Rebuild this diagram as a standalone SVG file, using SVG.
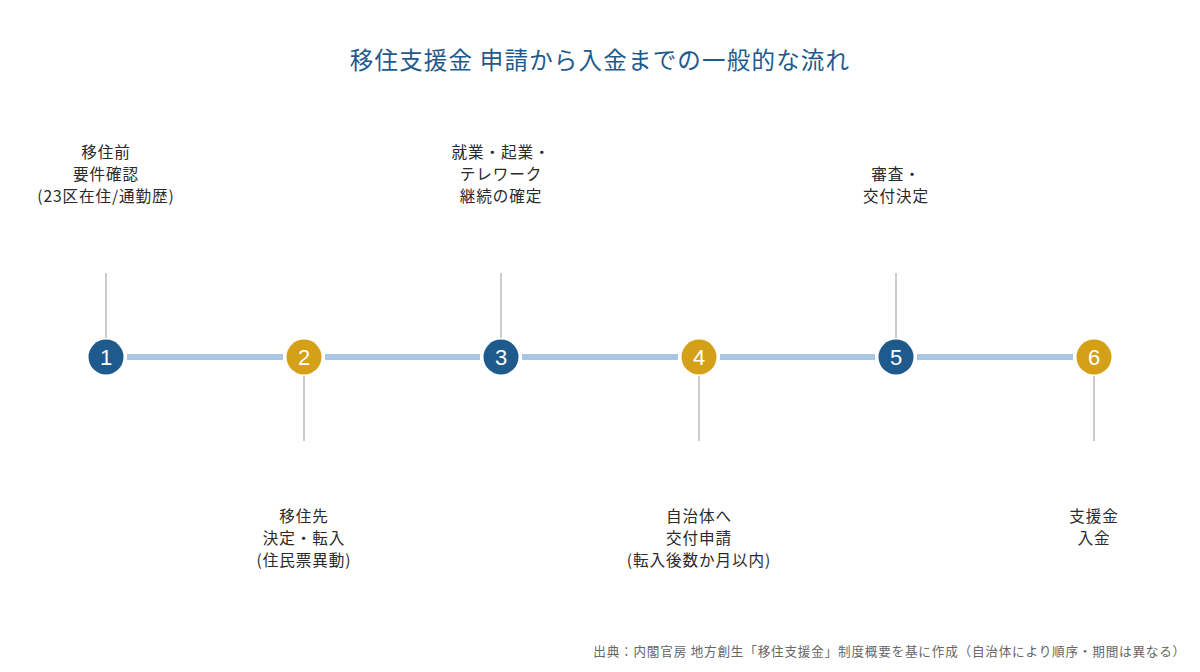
<svg xmlns="http://www.w3.org/2000/svg" width="1200" height="672" viewBox="0 0 1200 672">
<style>
text{font-family:"Noto Sans CJK JP","Noto Sans CJK SC",sans-serif}
.t{font-size:23.5px;letter-spacing:1.2px;fill:#1f5a8c;text-anchor:middle}
.l{font-size:15.6px;letter-spacing:0.9px;fill:#2a2a2a;text-anchor:middle}
.n{font-size:22px;fill:#fff;text-anchor:middle;font-family:"Liberation Sans",sans-serif}
.f{font-size:12.6px;letter-spacing:0.8px;fill:#666;text-anchor:end}
.seg{stroke:#a9c7e3;stroke-width:6}
.tick{stroke:#bbb;stroke-width:1.5}
.b{fill:#1f5a8c}.g{fill:#d4a017}
</style>
<rect width="1200" height="672" fill="#fff"/>
<text class="t" x="600" y="69">移住支援金 申請から入金までの一般的な流れ</text>
<g id="connectors">
<line class="seg" x1="127" y1="357" x2="283" y2="357"/>
<line class="seg" x1="325" y1="357" x2="480" y2="357"/>
<line class="seg" x1="522" y1="357" x2="678" y2="357"/>
<line class="seg" x1="720" y1="357" x2="875" y2="357"/>
<line class="seg" x1="917" y1="357" x2="1073" y2="357"/>
<line class="tick" x1="106" y1="273" x2="106" y2="338"/>
<line class="tick" x1="501" y1="273" x2="501" y2="338"/>
<line class="tick" x1="896" y1="273" x2="896" y2="338"/>
<line class="tick" x1="304" y1="376" x2="304" y2="441"/>
<line class="tick" x1="699" y1="376" x2="699" y2="441"/>
<line class="tick" x1="1094" y1="376" x2="1094" y2="441"/>
</g>
<g id="node1"><circle class="b" cx="106" cy="357" r="17.5"/><text class="n" x="106" y="365">1</text>
<text class="l" x="106" y="158">移住前</text><text class="l" x="106" y="180">要件確認</text><text class="l" x="106" y="202">(23区在住/通勤歴)</text></g>
<g id="node2"><circle class="g" cx="304" cy="357" r="17.5"/><text class="n" x="304" y="365">2</text>
<text class="l" x="304" y="522">移住先</text><text class="l" x="304" y="544">決定・転入</text><text class="l" x="304" y="566">(住民票異動)</text></g>
<g id="node3"><circle class="b" cx="501" cy="357" r="17.5"/><text class="n" x="501" y="365">3</text>
<text class="l" x="501" y="158">就業・起業・</text><text class="l" x="501" y="180">テレワーク</text><text class="l" x="501" y="202">継続の確定</text></g>
<g id="node4"><circle class="g" cx="699" cy="357" r="17.5"/><text class="n" x="699" y="365">4</text>
<text class="l" x="699" y="522">自治体へ</text><text class="l" x="699" y="544">交付申請</text><text class="l" x="699" y="566">(転入後数か月以内)</text></g>
<g id="node5"><circle class="b" cx="896" cy="357" r="17.5"/><text class="n" x="896" y="365">5</text>
<text class="l" x="896" y="180">審査・</text><text class="l" x="896" y="202">交付決定</text></g>
<g id="node6"><circle class="g" cx="1094" cy="357" r="17.5"/><text class="n" x="1094" y="365">6</text>
<text class="l" x="1094" y="522">支援金</text><text class="l" x="1094" y="544">入金</text></g>
<text class="f" x="1186" y="656">出典：内閣官房 地方創生「移住支援金」制度概要を基に作成（自治体により順序・期間は異なる）</text>
</svg>
